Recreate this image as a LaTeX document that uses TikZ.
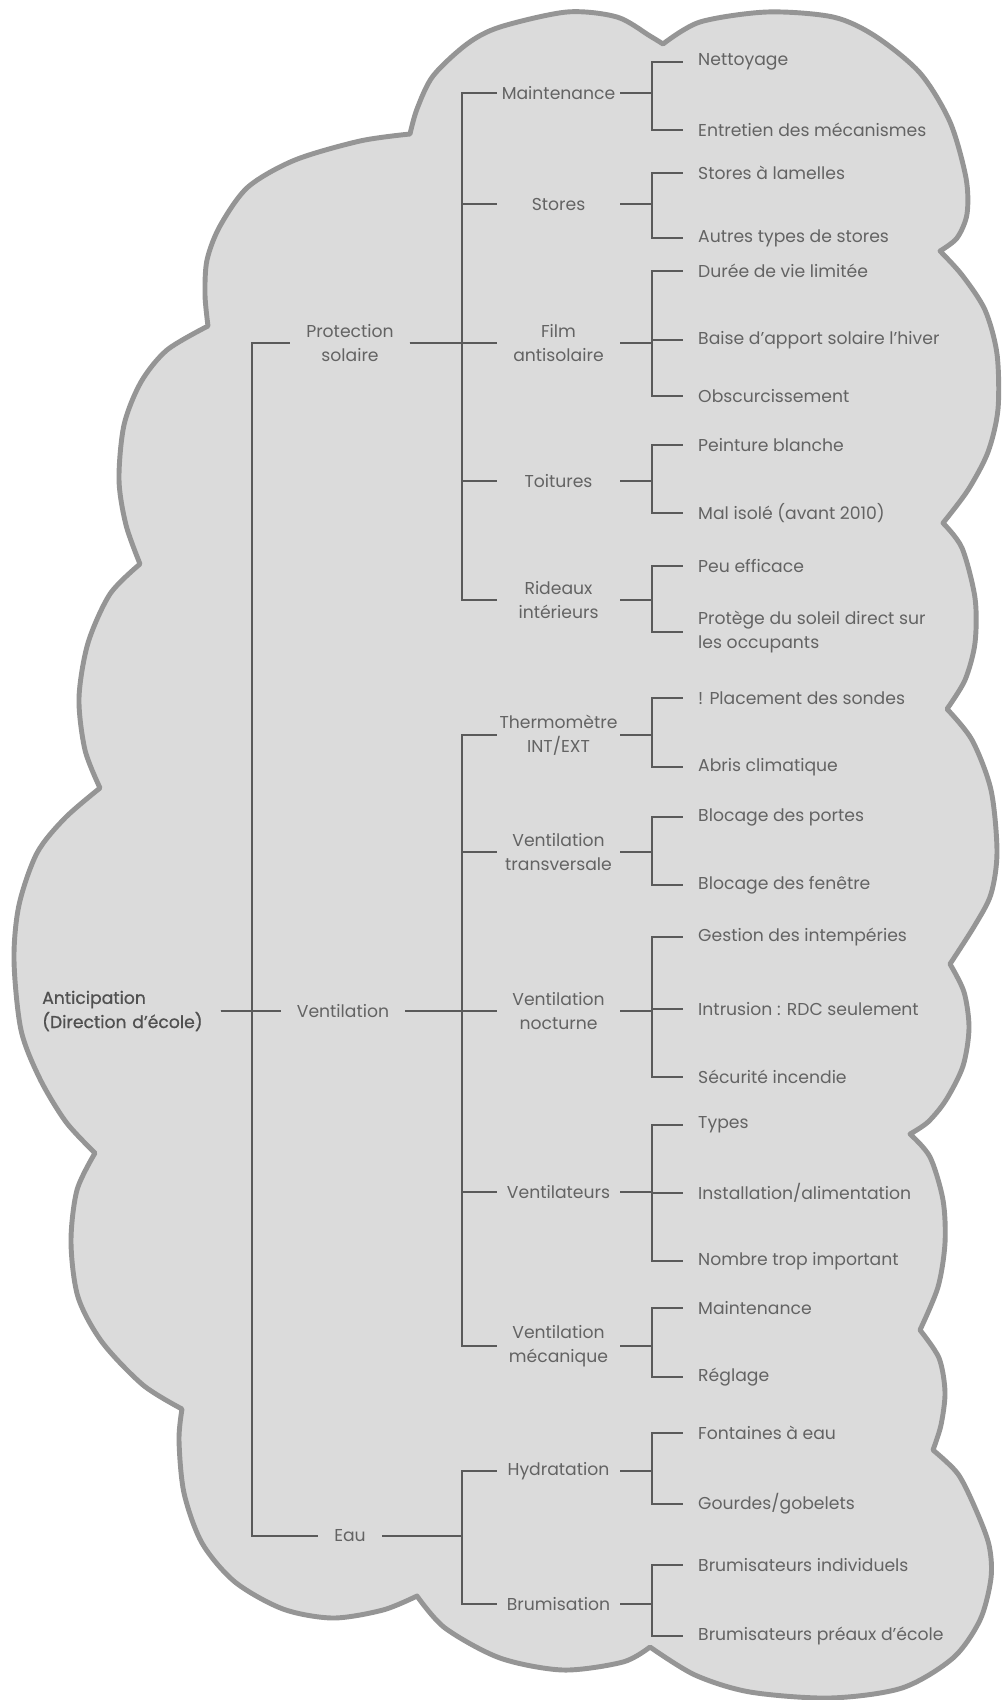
\documentclass[tikz,border=0pt]{standalone}
\usepackage{fontspec}
\setmainfont{Poppins}
\newfontfamily\rootfont{Poppins}[FakeBold=0.7]
\definecolor{cloudfill}{HTML}{DBDBDB}
\definecolor{cloudline}{HTML}{959595}
\definecolor{linegray}{HTML}{5A5A5A}
\definecolor{textgray}{HTML}{636363}
\definecolor{rootgray}{HTML}{505050}
\begin{document}
\begin{tikzpicture}[x=0.3mm,y=-0.3mm,
  txt/.style={font=\fontsize{14.7pt}{20.6pt}\selectfont, text=textgray, inner ysep=2pt},
  leaf/.style={txt, anchor=west, inner xsep=12.8pt, align=left},
  lvtwo/.style={txt, text width=105pt, inner xsep=0pt, align=center},
  lvone/.style={txt, inner xsep=13.7pt, align=center},
  rootnode/.style={txt, font=\fontsize{14.7pt}{20.6pt}\selectfont\rootfont, text=rootgray, anchor=west, text width=152pt, inner xsep=0pt, align=left},
  conn/.style={draw=linegray, line width=1.25pt},
  cloud/.style={fill=cloudfill, draw=cloudline, line width=4.2pt, line join=round}
]
\fill[white] (0,0) rectangle (1002,1700);
\useasboundingbox (0,0) rectangle (1002,1700);

% cloud outline
\path[cloud]
  plot[smooth] coordinates {(410,134) (417,109) (433,76) (467,44) (500,27) (567,12) (617,17) (650,36) (663,44)}
  -- plot[smooth] coordinates {(663,44) (700,22) (767,12) (833,17) (875,36) (920,73) (950,122) (966,178) (967,214) (957,238) (940,251)}
  -- plot[smooth] coordinates {(940,251) (962,275) (985,310) (997,354) (998,409) (988,452) (968,490) (943,523)}
  -- plot[smooth] coordinates {(943,523) (962,548) (975,598) (975,643) (965,680) (947,709)}
  -- plot[smooth] coordinates {(947,709) (972,740) (991,790) (997,852) (991,894) (975,925) (950,964)}
  -- plot[smooth] coordinates {(950,964) (964,992) (969,1028) (963,1066) (946,1100) (928,1122) (910,1134)}
  -- plot[smooth] coordinates {(910,1134) (930,1157) (943,1200) (945,1243) (938,1287) (920,1330)}
  -- plot[smooth] coordinates {(920,1330) (939,1358) (945,1392) (941,1425) (933,1450)}
  -- plot[smooth] coordinates {(933,1450) (958,1474) (976,1510) (989,1545) (991,1578) (980,1620) (953,1658) (902,1688) (830,1698) (750,1692) (695,1675) (650,1647)}
  -- plot[smooth] coordinates {(650,1647) (623,1662) (563,1670) (500,1658) (445,1628) (417,1596)}
  -- plot[smooth] coordinates {(417,1596) (383,1610) (333,1618) (283,1609) (235,1582) (202,1543) (184,1493) (179,1440) (182,1409)}
  -- plot[smooth] coordinates {(182,1409) (143,1385) (102,1342) (78,1297) (71,1242) (77,1190) (95,1153)}
  -- plot[smooth] coordinates {(95,1153) (66,1122) (40,1079) (21,1030) (14,960) (19,905) (37,853) (65,818) (100,788)}
  -- plot[smooth] coordinates {(100,788) (85,750) (79,698) (88,643) (110,594) (140,564)}
  -- plot[smooth] coordinates {(140,564) (126,525) (119,480) (124,425) (141,382) (167,350) (208,326)}
  -- plot[smooth] coordinates {(208,326) (205,295) (207,260) (220,226) (248,187) (295,160) (360,141) (410,134)}
  -- cycle;

% buses
\coordinate (b1) at (252,0);
\coordinate (b2) at (462,0);
\coordinate (b3) at (652,0);

% root
\node[rootnode] (root) at (42,1011) {Anticipation\\(Direction d’école)};

% level 1
\node[lvone] (ps)   at (350,343)  {Protection\\solaire};
\node[lvone] (vent) at (343,1011) {Ventilation};
\node[lvone] (eau)  at (350,1536) {Eau};

% level 2
\node[lvtwo] (mai)  at (558.5,93)   {Maintenance};
\node[lvtwo] (sto)  at (558.5,204)  {Stores};
\node[lvtwo] (fil)  at (558.5,343)  {Film\\antisolaire};
\node[lvtwo] (toi)  at (558.5,481)  {Toitures};
\node[lvtwo] (rid)  at (558.5,600)  {Rideaux\\intérieurs};
\node[lvtwo] (the)  at (558.5,735)  {Thermomètre\\INT/EXT};
\node[lvtwo] (vtr)  at (558.5,852)  {Ventilation\\transversale};
\node[lvtwo] (vno)  at (558.5,1011) {Ventilation\\nocturne};
\node[lvtwo] (vtl)  at (558.5,1192) {Ventilateurs};
\node[lvtwo] (vme)  at (558.5,1346) {Ventilation\\mécanique};
\node[lvtwo] (hyd)  at (558.5,1471) {Hydratation};
\node[lvtwo] (bru)  at (558.5,1604) {Brumisation};

% leaves
\node[leaf] (l1)  at (683,62)   {Nettoyage};
\node[leaf] (l2)  at (683,130)  {Entretien des mécanismes};
\node[leaf] (l3)  at (683,173)  {Stores à lamelles};
\node[leaf] (l4)  at (683,238)  {Autres types de stores};
\node[leaf] (l5)  at (683,271)  {Durée de vie limitée};
\node[leaf] (l6)  at (683,340)  {Baise d’apport solaire l’hiver};
\node[leaf] (l7)  at (683,396)  {Obscurcissement};
\node[leaf] (l8)  at (683,445)  {Peinture blanche};
\node[leaf] (l9)  at (683,513)  {Mal isolé (avant 2010)};
\node[leaf] (l10) at (683,566)  {Peu efficace};
\node[leaf] (l11) at (683,632)  {Protège du soleil direct sur\\les occupants};
\node[leaf] (l12) at (683,698)  {! Placement des sondes};
\node[leaf] (l13) at (683,767)  {Abris climatique};
\node[leaf] (l14) at (683,817)  {Blocage des portes};
\node[leaf] (l15) at (683,885)  {Blocage des fenêtre};
\node[leaf] (l16) at (683,937)  {Gestion des intempéries};
\node[leaf] (l17) at (683,1009) {Intrusion : RDC seulement};
\node[leaf] (l18) at (683,1077) {Sécurité incendie};
\node[leaf] (l19) at (683,1125) {Types};
\node[leaf] (l20) at (683,1193) {Installation/alimentation};
\node[leaf] (l21) at (683,1261) {Nombre trop important};
\node[leaf] (l22) at (683,1308) {Maintenance};
\node[leaf] (l23) at (683,1377) {Réglage};
\node[leaf] (l24) at (683,1433) {Fontaines à eau};
\node[leaf] (l25) at (683,1504) {Gourdes/gobelets};
\node[leaf] (l26) at (683,1565) {Brumisateurs individuels};
\node[leaf] (l27) at (683,1636) {Brumisateurs préaux d’école};

% connectors root -> level 1
\foreach \c in {ps,vent,eau}
  \draw[conn] (root.east) -- (root.east -| b1) |- (\c.west);

% level 1 -> level 2
\foreach \c in {mai,sto,fil,toi,rid}
  \draw[conn] (ps.east) -- (ps.east -| b2) |- (\c.west);
\foreach \c in {the,vtr,vno,vtl,vme}
  \draw[conn] (vent.east) -- (vent.east -| b2) |- (\c.west);
\foreach \c in {hyd,bru}
  \draw[conn] (eau.east) -- (eau.east -| b2) |- (\c.west);

% level 2 -> leaves
\foreach \p/\c in {mai/l1,mai/l2,sto/l3,sto/l4,fil/l5,fil/l6,fil/l7,toi/l8,toi/l9,rid/l10,rid/l11,
  the/l12,the/l13,vtr/l14,vtr/l15,vno/l16,vno/l17,vno/l18,vtl/l19,vtl/l20,vtl/l21,vme/l22,vme/l23,
  hyd/l24,hyd/l25,bru/l26,bru/l27}
  \draw[conn] (\p.east) -- (\p.east -| b3) |- (\c.west);
\end{tikzpicture}
\end{document}
